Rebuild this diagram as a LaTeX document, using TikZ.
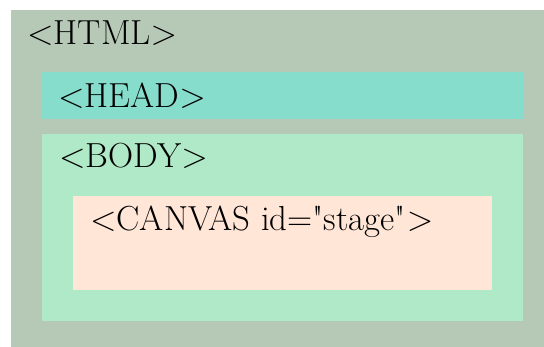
\RequirePackage{fix-cm}
\documentclass[tikz,border=0pt]{standalone}
\definecolor{htmlc}{HTML}{B6C8B6}
\definecolor{headc}{HTML}{86DDCC}
\definecolor{bodyc}{HTML}{AFE9C7}
\definecolor{canvasc}{HTML}{FFE6D7}
\begin{document}
\begin{tikzpicture}[x=1pt,y=-1pt,
  lbl/.style={anchor=base west,inner sep=0pt,font=\fontsize{34.8}{40}\selectfont}]
\useasboundingbox (0,0) rectangle (544,347);
\fill[htmlc] (11,10) rectangle (544,347);
\fill[headc] (42,72) rectangle (523,119);
\fill[bodyc] (42,134) rectangle (523,321);
\fill[canvasc] (73,196) rectangle (492,290);
\node[lbl] (html) at (27,45) {$<$HTML$>$};
\node[lbl] (head) at (58,108) {$<$HEAD$>$};
\node[lbl] (body) at (59,168) {$<$BODY$>$};
\node[lbl] (canvas) at (90,231) {$<$CANVAS id=\textquotedbl stage\textquotedbl\hspace{1pt}$>$};
\end{tikzpicture}
\end{document}
